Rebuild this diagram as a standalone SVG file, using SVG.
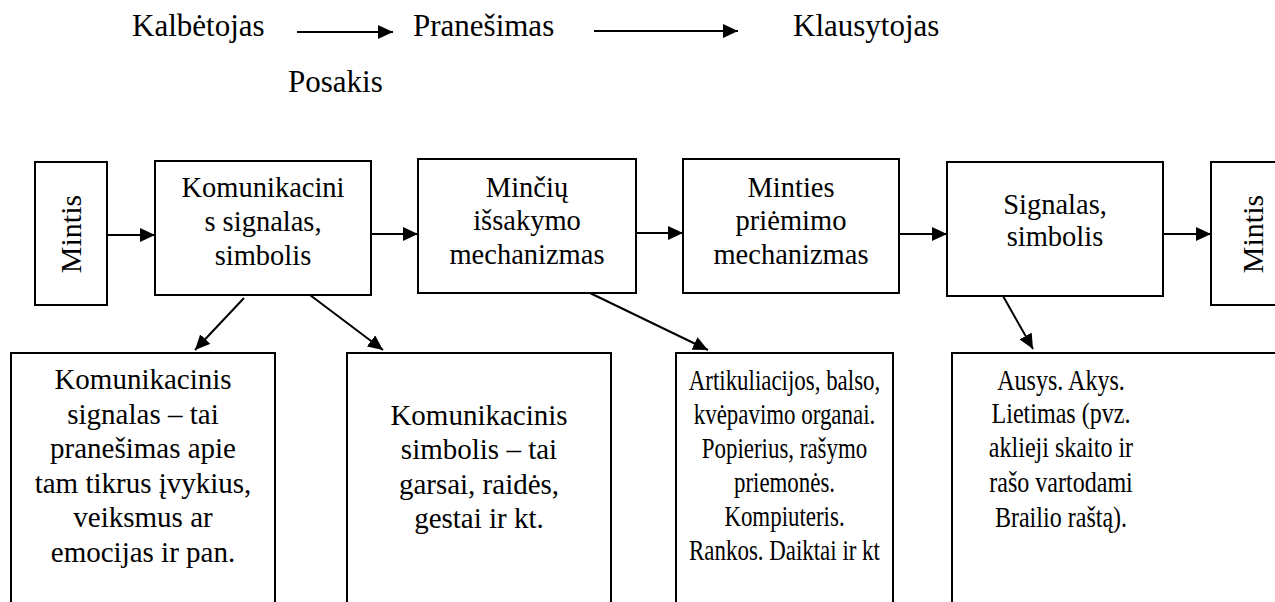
<svg xmlns="http://www.w3.org/2000/svg" width="1275" height="602" viewBox="0 0 1275 602" font-family="'Liberation Serif', 'Times New Roman', Times, serif">
<style>
text{font-family:'Liberation Serif','Times New Roman',Times,serif;fill:#000}
.t{font-size:31px}
.b{font-size:28.5px;text-anchor:middle}
.s{font-size:29px;text-anchor:middle}
.m{font-size:30px;text-anchor:middle}
.box{fill:#fff;stroke:#000;stroke-width:2}
.c{stroke:#000;stroke-width:2;fill:none;marker-end:url(#ah)}
</style>
<defs>
<marker id="ah" markerUnits="userSpaceOnUse" markerWidth="16" markerHeight="14" refX="15" refY="7" orient="auto">
<path d="M0,0 L15,7 L0,14 z" fill="#000"/>
</marker>
</defs>
<rect width="1275" height="602" fill="#fff"/>

<g id="top-labels">
<text class="t" x="132" y="36">Kalbėtojas</text>
<text class="t" x="413" y="36">Pranešimas</text>
<text class="t" x="793" y="36">Klausytojas</text>
<text class="t" x="288" y="92">Posakis</text>
</g>

<g id="mintis-left">
<rect class="box" x="35" y="162" width="72" height="143"/>
<text class="m" transform="translate(81,234) rotate(-90)">Mintis</text>
</g>
<g id="komunikacinis-signalas">
<rect class="box" x="155" y="161" width="216" height="134"/>
<text class="b" x="263" y="197">Komunikacini</text>
<text class="b" x="263" y="231">s signalas,</text>
<text class="b" x="263" y="265">simbolis</text>
</g>
<g id="minciu-issakymo">
<rect class="box" x="418" y="159" width="218" height="134"/>
<text class="b" x="527" y="197">Minčių</text>
<text class="b" x="527" y="230">išsakymo</text>
<text class="b" x="527" y="264">mechanizmas</text>
</g>
<g id="minties-priemimo">
<rect class="box" x="683" y="159" width="216" height="134"/>
<text class="b" x="791" y="197">Minties</text>
<text class="b" x="791" y="230">priėmimo</text>
<text class="b" x="791" y="264">mechanizmas</text>
</g>
<g id="signalas-simbolis">
<rect class="box" x="947" y="162" width="216" height="134"/>
<text class="b" x="1055" y="214">Signalas,</text>
<text class="b" x="1055" y="246">simbolis</text>
</g>
<g id="mintis-right">
<rect class="box" x="1211" y="162" width="100" height="143"/>
<text class="m" transform="translate(1263,234) rotate(-90)">Mintis</text>
</g>

<g id="signalo-apibrezimas">
<rect class="box" x="11" y="353" width="264" height="300"/>
<text class="s" x="143" y="389">Komunikacinis</text>
<text class="s" x="143" y="424">signalas – tai</text>
<text class="s" x="143" y="458">pranešimas apie</text>
<text class="s" x="143" y="493">tam tikrus įvykius,</text>
<text class="s" x="143" y="527">veiksmus ar</text>
<text class="s" x="143" y="562">emocijas ir pan.</text>
</g>
<g id="simbolio-apibrezimas">
<rect class="box" x="347" y="353" width="264" height="300"/>
<text class="s" x="479" y="425">Komunikacinis</text>
<text class="s" x="479" y="459">simbolis – tai</text>
<text class="s" x="479" y="494">garsai, raidės,</text>
<text class="s" x="479" y="528">gestai ir kt.</text>
</g>
<g id="issakymo-priemones">
<rect class="box" x="676" y="353" width="217" height="300"/>
<g transform="translate(784.5,0) scale(0.79,1)">
<text class="s" x="0" y="390">Artikuliacijos, balso,</text>
<text class="s" x="0" y="424">kvėpavimo organai.</text>
<text class="s" x="0" y="458">Popierius, rašymo</text>
<text class="s" x="0" y="492">priemonės.</text>
<text class="s" x="0" y="526">Kompiuteris.</text>
<text class="s" x="0" y="560">Rankos. Daiktai ir kt</text>
</g>
</g>
<g id="priemimo-organai">
<rect class="box" x="952" y="353" width="400" height="300"/>
<g transform="translate(1061,0) scale(0.83,1)">
<text class="s" x="0" y="390">Ausys. Akys.</text>
<text class="s" x="0" y="423">Lietimas (pvz.</text>
<text class="s" x="0" y="457">aklieji skaito ir</text>
<text class="s" x="0" y="492">rašo vartodami</text>
<text class="s" x="0" y="527">Brailio raštą).</text>
</g>
</g>

<g id="connectors">
<line class="c" x1="297" y1="32" x2="393" y2="32"/>
<line class="c" x1="594" y1="31" x2="738" y2="31"/>
<line class="c" x1="107" y1="235" x2="155" y2="235"/>
<line class="c" x1="371" y1="234" x2="418" y2="234"/>
<line class="c" x1="636" y1="233" x2="683" y2="233"/>
<line class="c" x1="899" y1="234" x2="947" y2="234"/>
<line class="c" x1="1163" y1="234" x2="1211" y2="234"/>
<line class="c" x1="244" y1="298" x2="195" y2="350"/>
<line class="c" x1="310" y1="295" x2="383" y2="350"/>
<line class="c" x1="590" y1="293" x2="708" y2="350"/>
<line class="c" x1="1003" y1="296" x2="1033" y2="349"/>
</g>
</svg>
